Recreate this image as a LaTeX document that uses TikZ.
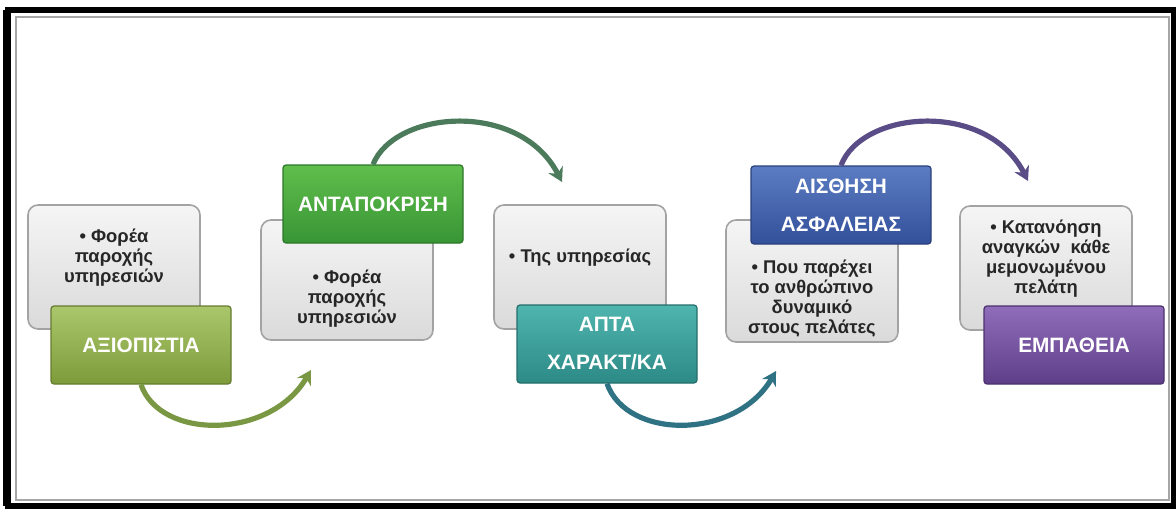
\documentclass[tikz,border=0pt]{standalone}
\usepackage{fontspec}
\setmainfont{Liberation Sans}
\usetikzlibrary{positioning,arrows.meta}

\definecolor{gboxtop}{HTML}{F5F5F5}
\definecolor{gboxbot}{HTML}{DADADA}
\definecolor{gboxline}{HTML}{A3A3A3}
\definecolor{axiotop}{HTML}{AAC76C}
\definecolor{axiobot}{HTML}{7E9B3B}
\definecolor{antatop}{HTML}{5FBE4C}
\definecolor{antabot}{HTML}{389535}
\definecolor{aptatop}{HTML}{4FB5AE}
\definecolor{aptabot}{HTML}{2D8A86}
\definecolor{aisttop}{HTML}{5B7CC3}
\definecolor{aistbot}{HTML}{33509A}
\definecolor{empatop}{HTML}{906DBA}
\definecolor{empabot}{HTML}{5E3E89}
\definecolor{arcaxio}{HTML}{7A9844}
\definecolor{arcanta}{HTML}{4C7B5C}
\definecolor{arcapta}{HTML}{2F7284}
\definecolor{arcaist}{HTML}{5A4C86}

\tikzset{
    greybox/.style={draw=gboxline, line width=0.8pt, rounded corners=5pt,
        top color=gboxtop, bottom color=gboxbot,
        minimum width=86pt, minimum height=62pt},
    boxtext/.style={inner sep=0pt, align=center,
        font=\fontsize{9.2}{10}\selectfont\bfseries, text=black!85},
    titlebox/.style={draw=#1bot!80!black, line width=0.6pt, rounded corners=1.5pt,
        top color=#1top, bottom color=#1bot, text=white,
        minimum width=90pt, minimum height=39pt, align=center,
        font=\fontsize{10.4}{19}\selectfont\bfseries},
    turn/.style={draw=#1, line width=2.6pt,
        -{Stealth[length=7pt, width=8pt]}},
}

\begin{document}
\begin{tikzpicture}[x=0.5pt, y=-0.5pt]
    \useasboundingbox (0,0) rectangle (1176,509);
    % frame
    \draw[line width=3pt] (8,10) rectangle (1174,506);
    \draw[line width=3pt] (6,10) -- (6,506);
    \draw[gray!70, line width=1pt] (16,17) rectangle (1169,500);

    % grey boxes
    \node[greybox] (box1) at (114,267) {};
    \node[greybox, minimum height=60pt] (box2) at (347,280) {};
    \node[greybox] (box3) at (580,267) {};
    \node[greybox, minimum height=61pt] (box4) at (812,281) {};
    \node[greybox] (box5) at (1046,268) {};

    \node[boxtext, below=12pt of box1.north] (txt1) {• Φορέα\\παροχής\\υπηρεσιών};
    \node[boxtext, below=25pt of box2.north] (txt2) {• Φορέα\\παροχής\\υπηρεσιών};
    \node[boxtext, below=22pt of box3.north] (txt3) {• Της υπηρεσίας};
    \node[boxtext, below=20pt of box4.north] (txt4) {• Που παρέχει\\το ανθρώπινο\\δυναμικό\\στους πελάτες};
    \node[boxtext, below=7pt of box5.north] (txt5) {• Κατανόηση\\αναγκών\ \ κάθε\\μεμονωμένου\\πελάτη};

    % title boxes
    \node[titlebox=axio] (axio) at (141,345) {ΑΞΙΟΠΙΣΤΙΑ};
    \node[titlebox=anta] (anta) at (373,204) {ΑΝΤΑΠΟΚΡΙΣΗ};
    \node[titlebox=apta] (apta) at (607,344) {ΑΠΤΑ\\ΧΑΡΑΚΤ/ΚΑ};
    \node[titlebox=aist] (aist) at (841,205) {ΑΙΣΘΗΣΗ\\ΑΣΦΑΛΕΙΑΣ};
    \node[titlebox=empa] (empa) at (1074,345) {ΕΜΠΑΘΕΙΑ};

    % arrow ends
    \coordinate (end1) at (311,370);
    \coordinate (end2) at (562,182);
    \coordinate (end3) at (776,371);
    \coordinate (end4) at (1028,181);

    \draw[turn=arcaxio] (axio.south) .. controls (160,440) and (270,440) .. (end1);
    \draw[turn=arcanta] (anta.north) .. controls (395,110) and (520,100) .. (end2);
    \draw[turn=arcapta] (apta.south) .. controls (627,440) and (736,440) .. (end3);
    \draw[turn=arcaist] (aist.north) .. controls (862,110) and (987,100) .. (end4);
\end{tikzpicture}
\end{document}
